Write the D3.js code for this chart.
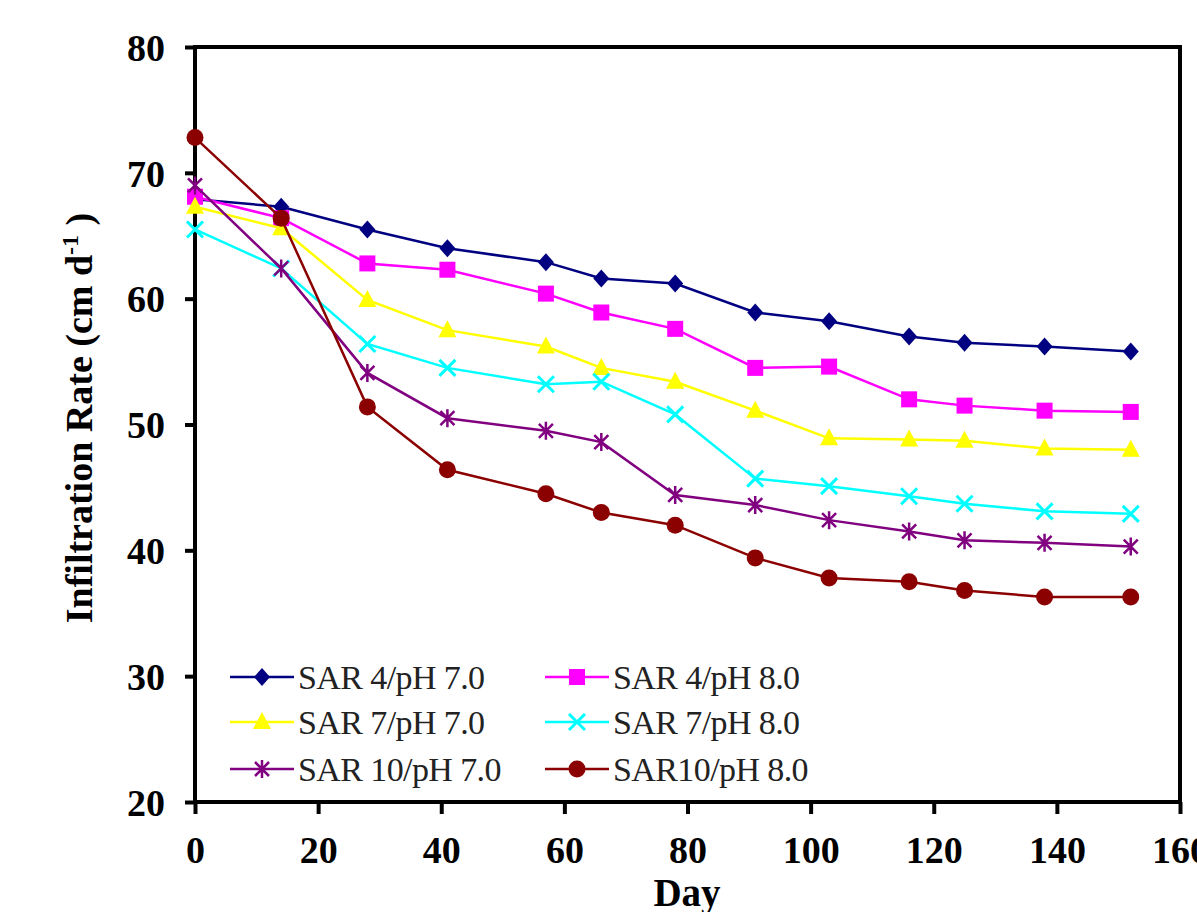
<!DOCTYPE html>
<html>
<head>
<meta charset="utf-8">
<script src="https://cdn.jsdelivr.net/npm/d3@7"></script>
<style>
  body { margin: 0; background: #fff; }
  svg { display: block; }
</style>
</head>
<body>
<svg id="chart" width="1197" height="912"></svg>
<script>
// data
var days = [0, 14, 28, 41, 57, 66, 78, 91, 103, 116, 125, 138, 152];
var sar4ph7 = [67.9, 67.3, 65.5, 64.0, 62.9, 61.6, 61.2, 58.9, 58.2, 57.0, 56.5, 56.2, 55.8];
var sar4ph8 = [68.1, 66.4, 62.8, 62.3, 60.4, 58.9, 57.6, 54.5, 54.6, 52.0, 51.5, 51.1, 51.0];
var sar7ph7 = [67.3, 65.6, 59.9, 57.5, 56.2, 54.5, 53.4, 51.1, 48.9, 48.8, 48.7, 48.1, 48.0];
var sar7ph8 = [65.5, 62.4, 56.4, 54.5, 53.2, 53.4, 50.8, 45.7, 45.1, 44.3, 43.7, 43.1, 42.9];
var sar10ph7 = [69.0, 62.4, 54.1, 50.5, 49.5, 48.6, 44.4, 43.6, 42.4, 41.5, 40.8, 40.6, 40.3];
var sar10ph8 = [72.8, 66.4, 51.4, 46.4, 44.5, 43.0, 42.0, 39.4, 37.8, 37.5, 36.8, 36.3, 36.3];
var seriesNames = ["SAR 4/pH 7.0", "SAR 4/pH 8.0", "SAR 7/pH 7.0", "SAR 7/pH 8.0", "SAR 10/pH 7.0", "SAR10/pH 8.0"];
var xTicks = [0, 20, 40, 60, 80, 100, 120, 140, 160];
var yTicks = [20, 30, 40, 50, 60, 70, 80];

var series = [
    { name: seriesNames[0], values: sar4ph7, color: "#000080", shape: "diamond" },
    { name: seriesNames[1], values: sar4ph8, color: "#ff00ff", shape: "square" },
    { name: seriesNames[2], values: sar7ph7, color: "#ffff00", shape: "triangle" },
    { name: seriesNames[3], values: sar7ph8, color: "#00ffff", shape: "cross" },
    { name: seriesNames[4], values: sar10ph7, color: "#800080", shape: "star" },
    { name: seriesNames[5], values: sar10ph8, color: "#8b0000", shape: "circle" }
];

var svg = d3.select("#chart");
var padding = { t: 47, r: 17, b: 110, l: 195 };
var width = 1180 - padding.l;
var height = 802 - padding.t;
var serif = "'Liberation Serif', 'Times New Roman', serif";

var xScale = d3.scaleLinear().domain([0, 160]).range([0, width]);
var yScale = d3.scaleLinear().domain([20, 80]).range([height, 0]);

var g = svg.append("g")
    .attr("transform", `translate(${padding.l},${padding.t})`);

// frame
g.append("rect")
    .attr("width", width)
    .attr("height", height)
    .attr("fill", "none")
    .attr("stroke", "#000")
    .attr("stroke-width", 4);

// axes
var xAxis = d3.axisBottom(xScale).tickValues(xTicks).tickSize(12).tickPadding(22).tickFormat(d3.format("d"));
var yAxis = d3.axisLeft(yScale).tickValues(yTicks).tickSize(10).tickPadding(20).tickFormat(d3.format("d"));

var gx = g.append("g").attr("transform", `translate(0,${height})`).call(xAxis);
var gy = g.append("g").call(yAxis);

[gx, gy].forEach(function (a) {
    a.select(".domain").remove();
    a.selectAll(".tick line").attr("stroke", "#000").attr("stroke-width", 4);
    a.selectAll(".tick text")
        .attr("fill", "#000")
        .style("font-family", serif)
        .style("font-weight", "bold")
        .style("font-size", "38px");
});
gx.selectAll(".tick text").attr("dy", "0.71em");
gy.selectAll(".tick text").attr("dy", "0.35em");

// axis titles
svg.append("text")
    .attr("x", 687)
    .attr("y", 906)
    .attr("text-anchor", "middle")
    .style("font-family", serif)
    .style("font-weight", "bold")
    .style("font-size", "39px")
    .text("Day");

var yt = svg.append("text")
    .attr("transform", "translate(92,418) rotate(-90)")
    .attr("text-anchor", "middle")
    .style("font-family", serif)
    .style("font-weight", "bold")
    .style("font-size", "38px");
yt.append("tspan").text("Infiltration Rate (cm d");
yt.append("tspan").attr("dy", -14).style("font-size", "24px").text("-1");
yt.append("tspan").attr("dy", 14).text(" )");

// marker drawing
function drawMarker(sel, shape, color) {
    if (shape === "diamond") {
        sel.append("path").attr("d", "M0,-9L8,0L0,9L-8,0Z").attr("fill", color);
    } else if (shape === "square") {
        sel.append("rect").attr("x", -8).attr("y", -8).attr("width", 16).attr("height", 16).attr("fill", color);
    } else if (shape === "triangle") {
        sel.append("path").attr("d", "M0,-10L9,7L-9,7Z").attr("fill", color);
    } else if (shape === "circle") {
        sel.append("circle").attr("r", 8.5).attr("fill", color);
    } else if (shape === "cross") {
        sel.append("path").attr("d", "M-8,-8L8,8M-8,8L8,-8").attr("stroke", color).attr("stroke-width", 3);
    } else if (shape === "star") {
        sel.append("path").attr("d", "M-7,-7L7,7M-7,7L7,-7M0,-9L0,9").attr("stroke", color).attr("stroke-width", 2.5);
    }
}

var line = d3.line()
    .x(d => xScale(d.day))
    .y(d => yScale(d.value));

series.forEach(function (s) {
    var pts = days.map((d, i) => ({ day: d, value: s.values[i] }));
    g.append("path")
        .datum(pts)
        .attr("fill", "none")
        .attr("stroke", s.color)
        .attr("stroke-width", 2.5)
        .attr("d", line);
    g.selectAll(null)
        .data(pts)
        .enter()
        .append("g")
        .attr("transform", d => `translate(${xScale(d.day)},${yScale(d.value)})`)
        .each(function () { drawMarker(d3.select(this), s.shape, s.color); });
});

// legend
var legendRows = [677, 722, 769];
var legendCols = [230, 545];
series.forEach(function (s, i) {
    var lx = legendCols[i % 2];
    var ly = legendRows[Math.floor(i / 2)];
    var lg = svg.append("g").attr("transform", `translate(${lx},${ly})`);
    lg.append("line").attr("x1", 0).attr("x2", 64).attr("y1", 0).attr("y2", 0)
        .attr("stroke", s.color).attr("stroke-width", 2.5);
    drawMarker(lg.append("g").attr("transform", "translate(32,0)"), s.shape, s.color);
    lg.append("text")
        .attr("x", 68)
        .attr("y", 0)
        .attr("dy", "0.35em")
        .attr("fill", "#222")
        .style("font-family", serif)
        .style("font-size", "34px")
        .style("letter-spacing", "-0.6px")
        .text(s.name);
});
</script>
</body>
</html>
